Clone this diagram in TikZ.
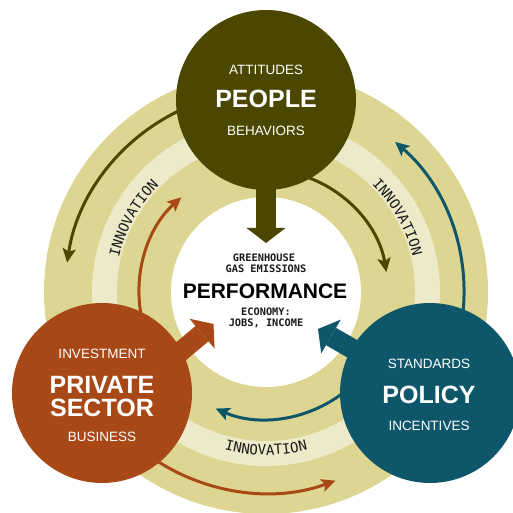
\documentclass[tikz,border=0pt]{standalone}
\usepackage{fontspec}
\setmainfont{Liberation Sans}
\newfontfamily\monofont{DejaVu Sans Mono}
\usetikzlibrary{arrows.meta,decorations.text}
\definecolor{olivec}{HTML}{4B4700}
\definecolor{rustc}{HTML}{A84816}
\definecolor{tealc}{HTML}{0E576B}
\definecolor{ringc}{HTML}{DDD692}
\definecolor{bandc}{HTML}{EDEAC9}
\definecolor{inkc}{HTML}{1A1A1A}
\newcommand\innostyle{\monofont\fontsize{14}{14}\selectfont}
\pgfdeclarelayer{back}\pgfdeclarelayer{mid}\pgfsetlayers{back,mid,main}
\tikzset{
  hub/.style={circle, minimum size=180pt, inner sep=0pt},
  smalltxt/.style={text=white, font=\fontsize{13.5}{13.5}\selectfont, inner sep=0pt, anchor=base},
  bigtxt/.style={text=white, font=\bfseries\fontsize{25}{25}\selectfont, inner sep=0pt, anchor=base},
  tinytxt/.style={text=inkc, font=\monofont\bfseries\fontsize{10.3}{10.3}\selectfont, inner sep=0pt, anchor=base},
  bigarrow/.style={line width=20pt, -{Triangle[length=15pt,width=39pt,line width=0pt]}},
  thinarrow/.style={line width=3pt, -{Stealth[length=14pt,width=13pt,inset=3pt]}},
  innolabel/.style={decorate, decoration={text along path, text align=center, text color=inkc, text={|\innostyle|INNOVATION}}}
}
\begin{document}
\begin{tikzpicture}[x=1pt,y=1pt]
\useasboundingbox (0,0) rectangle (513,513);
\clip (0,0) rectangle (513,513);
\coordinate (C) at (266,221);
% hubs and centre texts
\node[hub, fill=olivec] (people) at (266,413) {};
\node[hub, fill=rustc] (private) at (102,120) {};
\node[hub, fill=tealc] (policy) at (430,120) {};
\node[smalltxt] (att) at (266,438) {ATTITUDES};
\node[bigtxt] (ppl) at (266,405) {PEOPLE};
\node[smalltxt] (beh) at (266,377) {BEHAVIORS};
\node[smalltxt] (inv) at (102,154) {INVESTMENT};
\node[bigtxt] (prv) at (102,119.7) {PRIVATE};
\node[bigtxt] (sec) at (102,96.3) {SECTOR};
\node[smalltxt] (bus) at (102,71) {BUSINESS};
\node[smalltxt] (std) at (429,144) {STANDARDS};
\node[bigtxt] (pol) at (429,109) {POLICY};
\node[smalltxt] (inc) at (429,82) {INCENTIVES};
\node[tinytxt] (gh1) at (264,251.25) {GREENHOUSE};
\node[tinytxt] (gh2) at (266,240.25) {GAS EMISSIONS};
\node[text=black, font=\bfseries\fontsize{21}{21}\selectfont, inner sep=0pt, anchor=base] (perft) at (265,214.5) {PERFORMANCE};
\node[tinytxt] (eco1) at (266,197.25) {ECONOMY:};
\node[tinytxt] (eco2) at (266,186.25) {JOBS, INCOME};
\begin{pgfonlayer}{back}
\fill[ringc] (C) circle[radius=222];
\fill[bandc] (C) circle[radius=174];
\fill[ringc] (C) circle[radius=149];
\node[circle, fill=white, minimum size=190pt, inner sep=0pt] (perf) at (C) {};
\path[innolabel] ([shift={(C)}]176:151) arc[start angle=176,end angle=126,radius=151];
\path[innolabel] ([shift={(C)}]54.5:151) arc[start angle=54.5,end angle=4.5,radius=151];
\path[innolabel] ([shift={(C)}]-115:163) arc[start angle=-115,end angle=-65,radius=163];
\end{pgfonlayer}
\begin{pgfonlayer}{mid}
\coordinate (tipP) at (266,270);
\coordinate (tipS) at (213.5,189);
\coordinate (baseS) at (136.9,124.7);
\coordinate (tipO) at (318,184);
\coordinate (baseO) at (404.6,134);
\draw[bigarrow, olivec] (people.center) -- (tipP);
\draw[bigarrow, rustc] (baseS) -- (tipS);
\draw[bigarrow, tealc] (baseO) -- (tipO);
\draw[thinarrow, olivec] ([shift={(C)}]112:201) arc[start angle=112,end angle=171.6,radius=201];
\draw[thinarrow, olivec] ([shift={(C)}]72:122) arc[start angle=72,end angle=9.4,radius=122];
\draw[thinarrow, tealc] ([shift={(C)}]-10:198) arc[start angle=-10,end angle=49.3,radius=198];
\draw[thinarrow, tealc] ([shift={(C)}]-50:127) arc[start angle=-50,end angle=-113.4,radius=127];
\draw[thinarrow, rustc] ([shift={(C)}]-125:201) arc[start angle=-125,end angle=-69.8,radius=201];
\draw[thinarrow, rustc] ([shift={(C)}]193:127) arc[start angle=193,end angle=131.8,radius=127];
\end{pgfonlayer}
\end{tikzpicture}
\end{document}
